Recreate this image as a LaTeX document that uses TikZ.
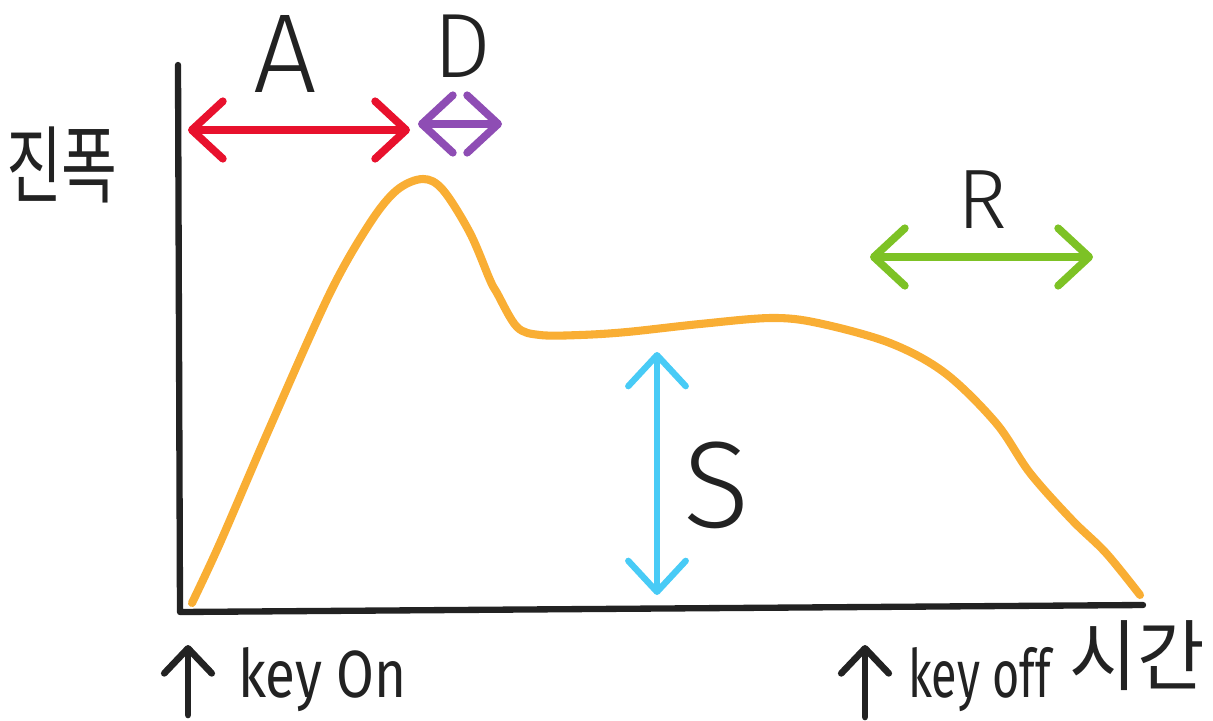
\documentclass[tikz,border=0pt]{standalone}
\usepackage{fontspec}
\setmainfont{Fira Sans}[UprightFont=* Light]
\newfontfamily\keyfont{Fira Sans}
\newfontfamily\krfont{Noto Sans CJK KR}
\usetikzlibrary{arrows.meta}
\definecolor{ink}{HTML}{222222}
\definecolor{cred}{HTML}{E8112D}
\definecolor{cpurple}{HTML}{8E4DB4}
\definecolor{cgreen}{HTML}{7DC225}
\definecolor{ccyan}{HTML}{48CBF6}
\definecolor{corange}{HTML}{F9AE34}
\tikzset{
  barb/.style={line width=4.4pt, line cap=round, line join=round,
    {Straight Barb[length=0.62cm,width=1.15cm,line cap=round,line join=round]}-{Straight Barb[length=0.62cm,width=1.15cm,line cap=round,line join=round]}},
  uparrow/.style={ink, line width=3.8pt, line cap=round, line join=round,
    -{Straight Barb[length=0.5cm,width=0.95cm,line cap=round,line join=round]}},
  axis/.style={ink, line width=3.6pt, line cap=round, line join=round},
  lbl/.style={ink, inner sep=0pt},
}
\begin{document}
\begin{tikzpicture}[x=0.02cm,y=-0.02cm]
\useasboundingbox (0,0) rectangle (1213,720);
% axes
\coordinate (ytop) at (178,65);
\coordinate (origin) at (180,612);
\coordinate (xend) at (1143,605);
\draw[axis] (ytop) -- (origin) -- (xend);
% envelope curve
\draw[corange, line width=4.6pt, line cap=round, line join=round]
  plot[smooth, tension=0.55] coordinates {(192,603) (220,543) (270,427) (330,293) (370,223) (397,190) (423,179) (443,190) (470,233) (490,280) (497,293) (517,327) (540,335) (580,335) (627,332) (700,324) (771,318) (818,323) (890,343) (945,373) (996,423) (1030,473) (1072,520) (1106,553) (1140,595)};
% A
\coordinate (a1) at (188,130);
\coordinate (a2) at (410,130);
\draw[barb, cred] (a1) -- (a2);
\node[lbl, font=\fontsize{64}{64}\selectfont] (la) at (285,54) {A};
% D
\coordinate (d1) at (418,124);
\coordinate (d2) at (502,124);
\draw[barb, cpurple] (d1) -- (d2);
\node[lbl, font=\fontsize{52}{52}\selectfont] (ld) at (462,46) {D};
% S
\coordinate (s1) at (657,352);
\coordinate (s2) at (657,595);
\draw[barb, ccyan, line width=3.6pt] (s1) -- (s2);
\node[lbl, font=\fontsize{70}{70}\selectfont] (ls) at (717,485) {S};
% R
\coordinate (r1) at (870,257);
\coordinate (r2) at (1093,257);
\draw[barb, cgreen] (r1) -- (r2);
\node[lbl, font=\fontsize{48}{48}\selectfont] (lr) at (982,200) {R};
% y label
\node[lbl, font=\krfont\fontsize{48}{48}\selectfont, xscale=0.72] (amp) at (62,165) {진폭};
% key on
\coordinate (k1b) at (188,715);
\coordinate (k1t) at (188,645);
\draw[uparrow] (k1b) -- (k1t);
\node[lbl, anchor=base west, font=\keyfont\fontsize{38}{38}\selectfont, xscale=0.82] (kon) at (238,697) {key On};
% key off
\coordinate (k2b) at (865,717);
\coordinate (k2t) at (865,645);
\draw[uparrow] (k2b) -- (k2t);
\node[lbl, anchor=base west, font=\keyfont\fontsize{38}{38}\selectfont, xscale=0.7] (koff) at (908,697) {key off};
\node[lbl, font=\krfont\fontsize{44}{44}\selectfont, xscale=0.95] (time) at (1137,656) {시간};
\end{tikzpicture}
\end{document}
